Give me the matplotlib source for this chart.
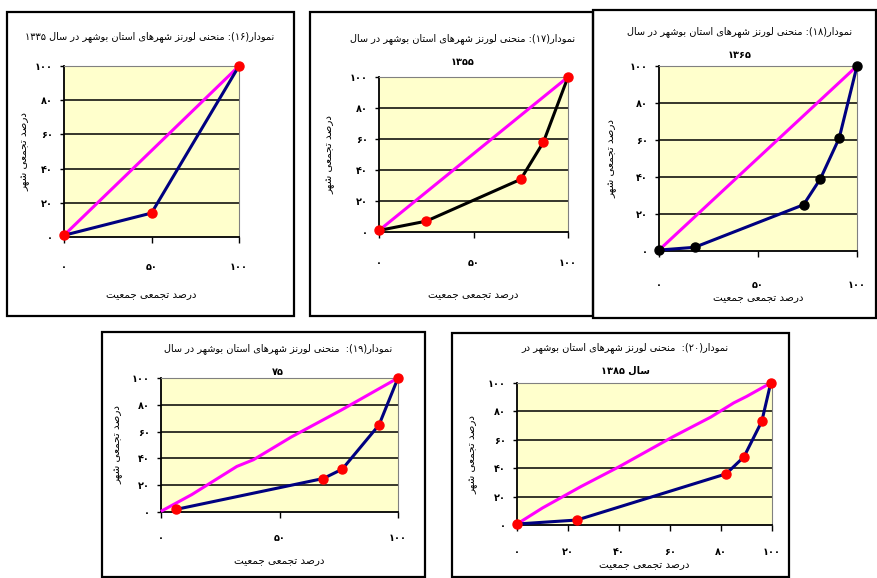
import re
import matplotlib
matplotlib.use('Agg')
import matplotlib.pyplot as plt
from matplotlib.patches import Rectangle

# Lorenz curves of Bushehr province cities, one panel per census year
x_1335 = [0, 50, 100]
y_1335 = [1, 14, 100]
eq_x_1335 = [0, 100]
eq_y_1335 = [1, 100]

x_1355 = [0, 25, 75, 87, 100]
y_1355 = [1, 7, 34, 58, 100]
eq_x_1355 = [0, 100]
eq_y_1355 = [1, 100]

x_1365 = [0, 18, 73, 81.5, 91, 100]
y_1365 = [0.5, 2, 25, 39, 61, 100]
eq_x_1365 = [0, 100]
eq_y_1365 = [0.5, 100]

x_1375 = [6.5, 68.5, 76.5, 92, 100]
y_1375 = [2, 25, 32, 65, 100]
eq_x_1375 = [0.5, 13, 32, 39, 55, 76, 100]
eq_y_1375 = [1, 13, 34, 39, 56, 76, 100]

x_1385 = [0, 23.5, 82, 89, 96, 99.5]
y_1385 = [0.7, 3.5, 36, 48, 73, 100]
eq_x_1385 = [0, 10, 25, 40, 61, 76, 85, 90, 99.5]
eq_y_1385 = [0.7, 12, 27, 41, 62, 76, 86, 90.5, 100]

y_ticks = [0, 20, 40, 60, 80, 100]
y_tick_labels = ['۰', '۲۰', '۴۰', '۶۰', '۸۰', '۱۰۰']
x_ticks_3 = [0, 50, 100]
x_tick_labels_3 = ['۰', '۵۰', '۱۰۰']
x_ticks_6 = [0, 20, 40, 60, 80, 100]
x_tick_labels_6 = ['۰', '۲۰', '۴۰', '۶۰', '۸۰', '۱۰۰']

title_1335 = ['نمودار(۱۶): منحنی لورنز شهرهای استان بوشهر در سال ۱۳۳۵']
title_1355 = ['نمودار(۱۷): منحنی لورنز شهرهای استان بوشهر در سال', '۱۳۵۵']
title_1365 = ['نمودار(۱۸): منحنی لورنز شهرهای استان بوشهر در سال', '۱۳۶۵']
title_1375 = ['نمودار(۱۹):  منحنی لورنز شهرهای استان بوشهر در سال', '۷۵']
title_1385 = ['نمودار(۲۰):  منحنی لورنز شهرهای استان بوشهر در', 'سال ۱۳۸۵']
x_label = 'درصد تجمعی جمعیت'
y_label = 'درصد تجمعی شهر'

# matplotlib has no arabic shaping, so map letters to presentation forms
# (isolated, final, initial, medial)
FORMS = {
    'ا': (0xFE8D, 0xFE8E, None, None),
    'ب': (0xFE8F, 0xFE90, 0xFE91, 0xFE92),
    'ت': (0xFE95, 0xFE96, 0xFE97, 0xFE98),
    'ج': (0xFE9D, 0xFE9E, 0xFE9F, 0xFEA0),
    'ح': (0xFEA1, 0xFEA2, 0xFEA3, 0xFEA4),
    'د': (0xFEA9, 0xFEAA, None, None),
    'ر': (0xFEAD, 0xFEAE, None, None),
    'ز': (0xFEAF, 0xFEB0, None, None),
    'س': (0xFEB1, 0xFEB2, 0xFEB3, 0xFEB4),
    'ش': (0xFEB5, 0xFEB6, 0xFEB7, 0xFEB8),
    'ص': (0xFEB9, 0xFEBA, 0xFEBB, 0xFEBC),
    'ع': (0xFEC9, 0xFECA, 0xFECB, 0xFECC),
    'ل': (0xFEDD, 0xFEDE, 0xFEDF, 0xFEE0),
    'م': (0xFEE1, 0xFEE2, 0xFEE3, 0xFEE4),
    'ن': (0xFEE5, 0xFEE6, 0xFEE7, 0xFEE8),
    'ه': (0xFEE9, 0xFEEA, 0xFEEB, 0xFEEC),
    'و': (0xFEED, 0xFEEE, None, None),
    'ی': (0xFBFC, 0xFBFD, 0xFBFE, 0xFBFF),
}
MIRROR = {'(': ')', ')': '('}


def fa(text):
    out = []
    for i, ch in enumerate(text):
        if ch not in FORMS:
            out.append(ch)
            continue
        prev = text[i - 1] if i > 0 else ''
        nxt = text[i + 1] if i + 1 < len(text) else ''
        join_prev = prev in FORMS and FORMS[prev][2] is not None
        join_next = FORMS[ch][2] is not None and nxt in FORMS
        iso, fin, ini, med = FORMS[ch]
        if join_prev and join_next:
            code = med
        elif join_prev:
            code = fin
        elif join_next:
            code = ini
        else:
            code = iso
        out.append(chr(code))
    # right-to-left: reverse everything but keep digit runs in order
    tokens = re.findall(r'[۰-۹0-9]+|.', ''.join(out))
    tokens.reverse()
    return ''.join(MIRROR.get(t, t) for t in tokens)


W, H = 877, 578


def fx(px):
    return px / W


def fy(py):
    return 1 - py / H


def draw_panel(fig, frame, box, lx, ly, ex, ey, line_color, marker_color,
               xticks, xtick_labels, title, title_x, title_y, xlab_pad, xlabel_y, ylabel_x):
    # outer frame of the panel
    l, t, r, b = frame
    fig.add_artist(Rectangle((fx(l), fy(b)), fx(r - l), (b - t) / H, transform=fig.transFigure,
                             fill=False, edgecolor='black', linewidth=1.6))

    l, t, r, b = box
    ax = fig.add_axes([fx(l), fy(b), fx(r - l), (b - t) / H])
    ax.set_facecolor('#FFFFCC')
    ax.set_xlim(0, 100)
    ax.set_ylim(0, 100)
    for y in y_ticks[1:-1]:
        ax.axhline(y, color='black', linewidth=1.1, zorder=1)
    ax.spines['left'].set_color('black')
    ax.spines['bottom'].set_color('black')
    ax.spines['left'].set_linewidth(1.3)
    ax.spines['bottom'].set_linewidth(1.3)
    ax.spines['top'].set_color('#808080')
    ax.spines['right'].set_color('#808080')

    ax.plot(ex, ey, color='#FF00FF', linewidth=2.2, zorder=3, clip_on=False)
    ax.plot(lx, ly, color=line_color, linewidth=2.2, marker='o', markersize=6.5,
            markerfacecolor=marker_color, markeredgecolor=marker_color, zorder=4, clip_on=False)

    ax.set_yticks(y_ticks)
    ax.set_yticklabels(y_tick_labels, fontsize=7, fontweight='bold')
    ax.set_xticks(xticks)
    ax.set_xticklabels(xtick_labels, fontsize=7, fontweight='bold')
    ax.tick_params(axis='y', direction='out', length=3, width=1, pad=5)
    ax.tick_params(axis='x', direction='out', length=4, width=1, pad=xlab_pad)

    cx = (box[0] + box[2]) / 2
    for i, line in enumerate(title):
        weight = 'bold' if i > 0 else 'normal'
        fig.text(fx(title_x), fy(title_y + i * 23), fa(line), ha='center', va='center',
                 fontsize=7, fontweight=weight)
    fig.text(fx(cx), fy(xlabel_y), fa(x_label), ha='center', va='center', fontsize=7.5)
    fig.text(fx(ylabel_x), fy((box[1] + box[3]) / 2), fa(y_label), ha='center', va='center',
             rotation=90, fontsize=7.5)
    return ax


plt.rcParams['font.family'] = ['DejaVu Sans']
fig = plt.figure(figsize=(8.77, 5.78), dpi=100)

draw_panel(fig, (7, 12, 294, 316), (64, 66, 239, 237), x_1335, y_1335, eq_x_1335, eq_y_1335,
           '#000080', '#FF0000', x_ticks_3, x_tick_labels_3, title_1335, 150, 37, 14, 295, 25)
draw_panel(fig, (310, 12, 593, 316), (379, 77, 568, 232), x_1355, y_1355, eq_x_1355, eq_y_1355,
           'black', '#FF0000', x_ticks_3, x_tick_labels_3, title_1355, 463, 39, 15, 295, 330)
draw_panel(fig, (593, 10, 876, 318), (659, 66, 857, 251), x_1365, y_1365, eq_x_1365, eq_y_1365,
           '#000080', 'black', x_ticks_3, x_tick_labels_3, title_1365, 740, 32, 17, 298, 612)
draw_panel(fig, (102, 332, 425, 577), (161, 378, 398, 512), x_1375, y_1375, eq_x_1375, eq_y_1375,
           '#000080', '#FF0000', x_ticks_3, x_tick_labels_3, title_1375, 278, 349, 11, 561, 118)
draw_panel(fig, (452, 333, 789, 577), (517, 383, 772, 525), x_1385, y_1385, eq_x_1385, eq_y_1385,
           '#000080', '#FF0000', x_ticks_6, x_tick_labels_6, title_1385, 625, 348, 12, 565, 473)

fig.savefig('out.png', dpi=100)
